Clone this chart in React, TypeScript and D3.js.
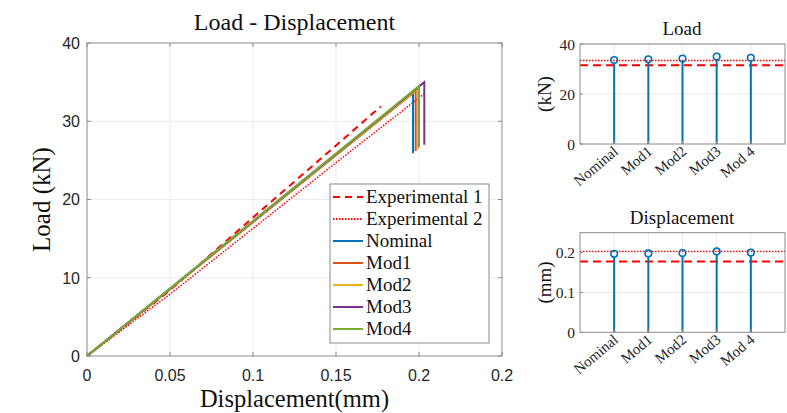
import * as d3 from "d3";

// main plot: load vs displacement
const xTicks = [0, 0.05, 0.1, 0.15, 0.2, 0.25];
const xTickLabels = ["0", "0.05", "0.1", "0.15", "0.2", "0.2"];
const yTicks = [0, 10, 20, 30, 40];

const exp1 = [
  [0, 0],
  [0.05, 8.4],
  [0.1, 17.7],
  [0.15, 26.9],
  [0.177, 31.9],
];
const exp2 = [
  [0, 0],
  [0.05, 7.9],
  [0.1, 16.3],
  [0.15, 24.7],
  [0.2036, 33.6],
];

const models = ["Nominal", "Mod1", "Mod2", "Mod3", "Mod4"];
const modelColors = ["#0072BD", "#D95319", "#EDB120", "#7E2F8E", "#77AC30"];
const peakDisp = [0.1964, 0.198, 0.1994, 0.2032, 0.2];
const peakLoad = [33.6, 33.9, 34.2, 35.0, 34.5];
const dropLoad = [25.9, 26.2, 26.5, 27.0, 26.7];

// side stems
const stemLabels = ["Nominal", "Mod1", "Mod2", "Mod3", "Mod 4"];
const stemDisp = [0.197, 0.198, 0.199, 0.203, 0.2];
const exp1Load = 31.5;
const exp2Load = 33.4;
const exp1Disp = 0.1775;
const exp2Disp = 0.203;

const serif = "'Liberation Serif', 'DejaVu Serif', serif";
const sans = "'Liberation Sans', Arial, sans-serif";
const axisColor = "#262626";
const boxColor = "#8a8a8a";
const gridColor = "#ebebeb";

function MainPlot() {
  const left = 87, right = 502, top = 43, bottom = 356;
  const x = d3.scaleLinear([0, 0.25], [left, right]);
  const y = d3.scaleLinear([0, 40], [bottom, top]);
  const line = d3
    .line<number[]>()
    .x((d) => x(d[0]))
    .y((d) => y(d[1]));
  const legendItems = [
    { name: "Experimental 1", color: "#FF0000", dash: "7,5" },
    { name: "Experimental 2", color: "#FF0000", dash: "1.5,1.5" },
    ...models.map((m, i) => ({ name: m, color: modelColors[i], dash: "" })),
  ];
  return (
    <g>
      {xTicks.slice(1, -1).map((t) => (
        <line key={"gx" + t} x1={x(t)} x2={x(t)} y1={top} y2={bottom} stroke={gridColor} />
      ))}
      {yTicks.slice(1, -1).map((t) => (
        <line key={"gy" + t} x1={left} x2={right} y1={y(t)} y2={y(t)} stroke={gridColor} />
      ))}
      <path d={line(exp1) || ""} fill="none" stroke="#FF0000" strokeWidth={2} strokeDasharray="7,5" />
      <path d={line(exp2) || ""} fill="none" stroke="#FF0000" strokeWidth={1.5} strokeDasharray="1.5,1.5" />
      {models.map((m, i) => (
        <path
          key={m}
          d={
            line([
              [0, 0],
              [peakDisp[i], peakLoad[i]],
              [peakDisp[i], dropLoad[i]],
            ]) || ""
          }
          fill="none"
          stroke={modelColors[i]}
          strokeWidth={2}
        />
      ))}
      <rect x={left} y={top} width={right - left} height={bottom - top} fill="none" stroke={boxColor} />
      {xTicks.map((t, i) => (
        <g key={"xt" + t}>
          <line x1={x(t)} x2={x(t)} y1={bottom} y2={bottom - 4} stroke={boxColor} />
          <line x1={x(t)} x2={x(t)} y1={top} y2={top + 4} stroke={boxColor} />
          <text x={x(t)} y={381} textAnchor="middle" fontFamily={sans} fontSize={16} fill={axisColor}>
            {xTickLabels[i]}
          </text>
        </g>
      ))}
      {yTicks.map((t) => (
        <g key={"yt" + t}>
          <line x1={left} x2={left + 4} y1={y(t)} y2={y(t)} stroke={boxColor} />
          <line x1={right} x2={right - 4} y1={y(t)} y2={y(t)} stroke={boxColor} />
          <text x={80} y={y(t)} dy="0.36em" textAnchor="end" fontFamily={sans} fontSize={16} fill={axisColor}>
            {t}
          </text>
        </g>
      ))}
      <text x={(left + right) / 2} y={30} textAnchor="middle" fontFamily={serif} fontSize={24} fill="#111">
        Load - Displacement
      </text>
      <text x={(left + right) / 2} y={407} textAnchor="middle" fontFamily={serif} fontSize={24.5} fill="#111">
        Displacement(mm)
      </text>
      <text
        transform={`translate(50,${(top + bottom) / 2}) rotate(-90)`}
        textAnchor="middle"
        fontFamily={serif}
        fontSize={25}
        fill="#111"
      >
        Load (kN)
      </text>
      <g transform="translate(330,184)">
        <rect width={159} height={159} fill="white" stroke={boxColor} />
        {legendItems.map((d, i) => (
          <g key={d.name} transform={`translate(0,${13 + i * 22})`}>
            <line x1={3} x2={33} y1={0} y2={0} stroke={d.color} strokeWidth={2} strokeDasharray={d.dash} />
            <text x={36} y={0} dy="0.33em" fontFamily={serif} fontSize={19} fill="#111">
              {d.name}
            </text>
          </g>
        ))}
      </g>
    </g>
  );
}

function StemPlot({
  top,
  bottom,
  domainMax,
  ticks,
  values,
  dashed,
  dotted,
  title,
  unit,
}: {
  top: number;
  bottom: number;
  domainMax: number;
  ticks: number[];
  values: number[];
  dashed: number;
  dotted: number;
  title: string;
  unit: string;
}) {
  const left = 580, right = 785;
  const x = d3.scaleLinear([0, 6], [left, right]);
  const y = d3.scaleLinear([0, domainMax], [bottom, top]);
  return (
    <g>
      {ticks.slice(1).map((t) => (
        <line key={"g" + t} x1={left} x2={right} y1={y(t)} y2={y(t)} stroke={gridColor} />
      ))}
      {values.map((v, i) => (
        <line key={"gx" + i} x1={x(i + 1)} x2={x(i + 1)} y1={top} y2={bottom} stroke={gridColor} />
      ))}
      <line x1={left} x2={right} y1={y(dotted)} y2={y(dotted)} stroke="#FF0000" strokeWidth={1.3} strokeDasharray="1.5,1.5" />
      <line x1={left} x2={right} y1={y(dashed)} y2={y(dashed)} stroke="#FF0000" strokeWidth={2} strokeDasharray="8,5" />
      {values.map((v, i) => (
        <g key={"s" + i}>
          <line x1={x(i + 1)} x2={x(i + 1)} y1={y(0)} y2={y(v) + 3} stroke="#0072BD" strokeWidth={2} />
          <circle cx={x(i + 1)} cy={y(v)} r={3.3} fill="none" stroke="#0072BD" strokeWidth={1.6} />
        </g>
      ))}
      <rect x={left} y={top} width={right - left} height={bottom - top} fill="none" stroke={boxColor} />
      {ticks.map((t) => (
        <g key={"yt" + t}>
          <line x1={left} x2={left + 3} y1={y(t)} y2={y(t)} stroke={boxColor} />
          <text x={575} y={y(t)} dy="0.36em" textAnchor="end" fontFamily={serif} fontSize={15.5} fill={axisColor}>
            {String(t)}
          </text>
        </g>
      ))}
      {stemLabels.map((s, i) => (
        <g key={s}>
          <line x1={x(i + 1)} x2={x(i + 1)} y1={bottom} y2={bottom - 3} stroke={boxColor} />
          <text
            transform={`translate(${x(i + 1) + 5},${bottom + 9}) rotate(-40)`}
            textAnchor="end"
            fontFamily={serif}
            fontSize={15}
            fill={axisColor}
          >
            {s}
          </text>
        </g>
      ))}
      <text x={682} y={top - 9} textAnchor="middle" fontFamily={serif} fontSize={19} fill="#111">
        {title}
      </text>
      <text
        transform={`translate(551,${(top + bottom) / 2}) rotate(-90)`}
        textAnchor="middle"
        fontFamily={serif}
        fontSize={19}
        fill="#111"
      >
        {unit}
      </text>
    </g>
  );
}

export default function App() {
  return (
    <svg width={787} height={413} style={{ position: "absolute", left: 0, top: 0, background: "white" }}>
      <MainPlot />
      <StemPlot
        top={44}
        bottom={144}
        domainMax={40}
        ticks={[0, 20, 40]}
        values={peakLoad}
        dashed={exp1Load}
        dotted={exp2Load}
        title="Load"
        unit="(kN)"
      />
      <StemPlot
        top={232.7}
        bottom={332.3}
        domainMax={0.25}
        ticks={[0, 0.1, 0.2]}
        values={stemDisp}
        dashed={exp1Disp}
        dotted={exp2Disp}
        title="Displacement"
        unit="(mm)"
      />
    </svg>
  );
}
